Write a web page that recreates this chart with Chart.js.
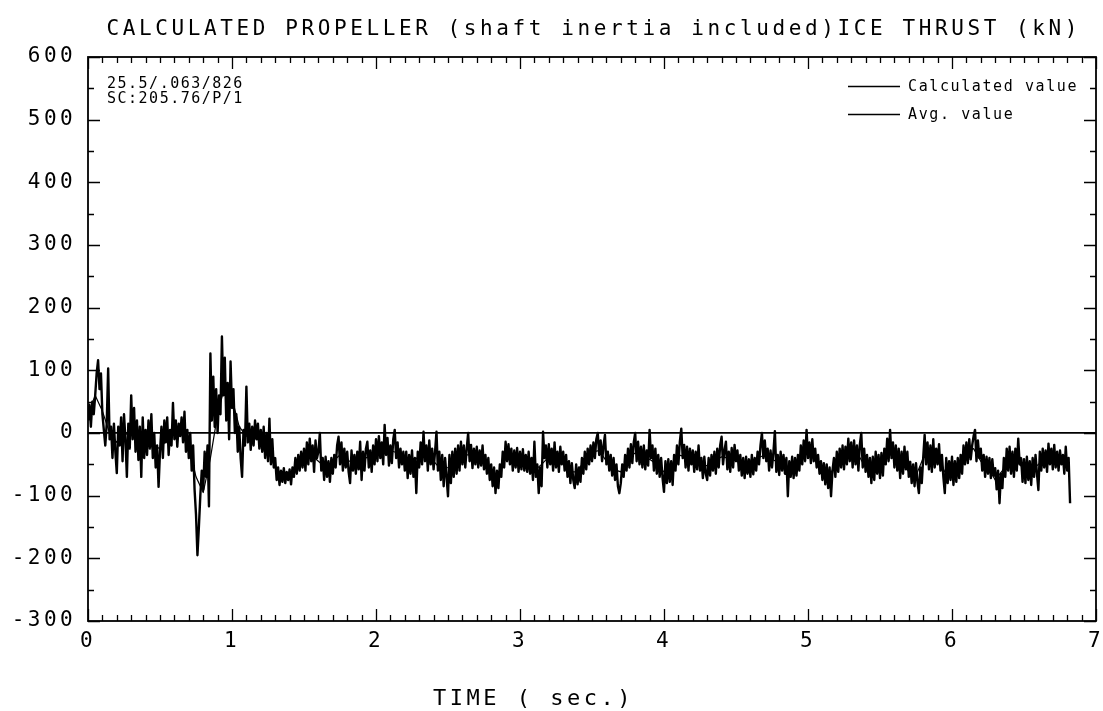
<!DOCTYPE html>
<html>
<head>
<meta charset="utf-8">
<title>Calculated propeller ice thrust</title>
<script src="https://cdn.jsdelivr.net/npm/chart.js@4.4.1/dist/chart.umd.min.js"></script>
<style>
  html, body { margin: 0; padding: 0; background: #fff; }
  canvas { display: block; }
</style>
</head>
<body>
<canvas id="c" width="1103" height="711"></canvas>
<script>
// Sampling of the two traces (seconds between samples)
const calcStep = 0.01;
const avgStep = 0.05;

// Calculated propeller ice thrust, kN, one row per 0.1 s
const calculatedValue = [
  20, 45, 10, 50, 30, 60, 95, 116, 70, 95,
  30, 5, -20, 15, 103, -10, 10, -40, 15, -30,
  -64, 10, -20, 25, -45, 30, -10, -70, 15, -25,
  60, -10, 40, -30, 20, -43, 10, -70, 25, -40,
  5, -35, 20, -25, 30, -40, 0, -55, -20, -86,
  -30, 10, -40, 20, -15, 25, -35, 5, -20, 48,
  -10, 20, -22, 15, -5, 25, -15, 34, -30, 5,
  -40, 0, -60, -20, -90, -130, -195, -150, -100, -60,
  -90, -30, -70, -20, -117, 127, 20, 90, 10, 70,
  0, 60, 30, 154, 60, 120, 20, 80, -10, 114,
  40, 70, 0, 30, -30, 10, -40, -70, 5, -20,
  74, -15, 15, -27, 10, -20, 20, -10, 15, -25,
  5, -30, 10, -40, 0, -45, 23, -50, -10, -55,
  -40, -75, -55, -83, -60, -78, -56, -80, -62, -75,
  -58, -82, -55, -70, -40, -65, -35, -60, -30, -55,
  -25, -60, -15, -50, -9, -45, -20, -62, -12, -40,
  -30, 0, -60, -40, -75, -38, -70, -45, -78, -40,
  -65, -35, -55, -20, -6, -50, -15, -60, -25, -55,
  -30, -62, -80, -28, -60, -35, -65, -30, -58, -14,
  -75, -30, -60, -25, -14, -55, -28, -62, -20, -50,
  -10, -45, -5, -40, -15, -50, 13, -35, -8, -52,
  -20, -48, -10, 5, -40, -15, -55, -25, -50, -30,
  -60, -30, -72, -35, -65, -28, -70, -40, -96, -30,
  -55, -15, -50, 2, -45, -20, -60, -12, -50, -25,
  -58, -30, 2, -60, -30, -75, -35, -85, -40, -70,
  -101, -35, -80, -30, -70, -25, -65, -20, -60, -14,
  -50, -20, -55, -25, 0, -45, -19, -56, -25, -50,
  -22, -55, -28, -52, -20, -58, -35, -65, -40, -75,
  -50, -85, -55, -96, -60, -88, -50, -70, -30, -55,
  -14, -45, -18, -50, -25, -60, -28, -55, -24, -62,
  -30, -58, -26, -60, -35, -62, -30, -65, -40, -75,
  -14, -70, -50, -96, -55, -85, 2, -40, -20, -55,
  -18, -50, -25, -60, -15, -55, -30, -62, -22, -50,
  -30, -60, -35, -70, -45, -80, -48, -75, -88, -50,
  -82, -55, -78, -40, -65, -30, -58, -25, -50, -20,
  -45, -15, -40, -10, 0, -35, -12, -45, -20, -3,
  -50, -30, -60, -35, -68, -40, -75, -50, -85, -96,
  -80, -50, -70, -35, -60, -25, -55, -18, -48, -15,
  0, -45, -14, -50, -22, -55, -20, -58, -28, -52,
  5, -40, -20, -60, -25, -65, -35, -70, -40, -72,
  -94, -45, -80, -42, -78, -45, -83, -35, -60, -20,
  -50, -14, 7, -40, -19, -55, -22, -60, -25, -50,
  -28, -62, -30, -58, -20, -60, -40, -72, -38, -65,
  -75, -40, -68, -35, -60, -30, -65, -25, -55, -20,
  -6, -50, -28, -14, -58, -30, -62, -24, -55, -19,
  -45, -28, -60, -35, -68, -40, -72, -38, -65, -42,
  -70, -35, -66, -40, -60, -30, -50, -20, 0, -40,
  -12, -45, -25, -60, -28, -55, -30, 3, -62, -35,
  -67, -30, -60, -35, -65, -40, -101, -45, -70, -38,
  -72, -40, -68, -35, -60, -20, -50, -12, -45, 5,
  -40, -15, -48, -10, -45, -25, -55, -35, -65, -45,
  -75, -48, -82, -50, -88, -55, -101, -60, -40, -70,
  -30, -62, -25, -55, -20, -58, -22, -50, -9, -45,
  -15, -55, -12, -50, -20, -60, -18, 0, -55, -25,
  -62, -35, -70, -40, -80, -38, -75, -30, -65, -35,
  -72, -32, -68, -25, -50, -9, -45, 5, -40, -15,
  -55, -20, -60, -25, -72, -30, -65, -22, -58, -30,
  -70, -46, -80, -50, -85, -48, -78, -96, -55, -80,
  -40, -3, -50, -15, -58, -20, -62, -10, -55, -25,
  -50, -18, -60, -35, -70, -96, -40, -80, -45, -75,
  -38, -83, -45, -78, -40, -72, -35, -65, -20, -50,
  -15, -48, -10, -42, -20, -5, 5, -45, -12, -40,
  -25, -60, -35, -70, -38, -65, -40, -72, -42, -68,
  -56, -90, -60, -112, -65, -88, -40, -70, -25, -60,
  -22, -65, -30, -70, -25, -60, -9, -50, -40, -78,
  -42, -80, -38, -75, -45, -83, -40, -70, -35, -65,
  -91, -30, -60, -25, -55, -28, -62, -17, -50, -25,
  -58, -19, -55, -30, -60, -28, -50, -35, -65, -22,
  -60, -40, -112
];

// Running average of the thrust, kN, one row per 0.5 s
const avgValue = [
  30, 60, 35, 0, -15, -5, 5, -5, -10, -20,
  -25, -10, 5, 5, -20, -70, -95, -40, 30, 75,
  55, 10, -5, -5, -15, -30, -55, -68, -65, -52,
  -40, -35, -45, -55, -45, -35, -45, -45, -42, -38,
  -28, -25, -28, -32, -48, -50, -35, -35, -45, -58,
  -55, -45, -35, -35, -38, -45, -68, -65, -35, -40,
  -42, -45, -60, -50, -38, -38, -45, -62, -62, -42,
  -30, -28, -45, -58, -62, -40, -32, -38, -42, -50,
  -62, -58, -35, -38, -40, -52, -52, -45, -38, -40,
  -42, -55, -52, -40, -35, -42, -48, -55, -52, -35,
  -30, -42, -62, -68, -45, -38, -35, -35, -55, -58,
  -50, -30, -40, -45, -62, -68, -40, -35, -40, -62,
  -60, -52, -30, -25, -45, -55, -75, -60, -45, -45,
  -58, -60, -50, -40, -40, -42, -50
];

// Axis ticks
const xTickValues = [0, 1, 2, 3, 4, 5, 6, 7];
const yTickValues = [-300, -200, -100, 0, 100, 200, 300, 400, 500, 600];

// Text
const chartTitle = 'CALCULATED PROPELLER (shaft inertia included)ICE THRUST (kN)';
const xAxisTitle = 'TIME ( sec.)';
const seriesNames = ['Calculated value', 'Avg. value'];
const runInfo = ['25.5/.063/826', 'SC:205.76/P/1'];

const toPoints = (values, step) => values.map((v, i) => ({ x: +(i * step).toFixed(3), y: v }));

const MONO = '"DejaVu Sans Mono", monospace';

// Frame with inward ticks on all four sides, plus title, legend and run info
const plotterFrame = {
  id: 'plotterFrame',
  beforeDraw(chart) {
    chart.ctx.letterSpacing = '3.4px';
  },
  afterDraw(chart) {
    const { ctx, chartArea: a, scales: { x, y } } = chart;
    ctx.save();
    ctx.letterSpacing = '0px';
    ctx.strokeStyle = '#000';
    ctx.lineWidth = 1.8;
    ctx.strokeRect(a.left, a.top, a.right - a.left, a.bottom - a.top);

    ctx.lineWidth = 1.3;
    ctx.beginPath();
    for (let i = 0; i <= 70; i++) {
      const px = Math.round(x.getPixelForValue(i / 10)) + 0.5;
      const len = i % 10 === 0 ? 12 : 6;
      ctx.moveTo(px, a.bottom); ctx.lineTo(px, a.bottom - len);
      ctx.moveTo(px, a.top); ctx.lineTo(px, a.top + len);
    }
    for (let v = -300; v <= 600; v += 50) {
      const py = Math.round(y.getPixelForValue(v)) + 0.5;
      const len = v % 100 === 0 ? 12 : 6;
      ctx.moveTo(a.left, py); ctx.lineTo(a.left + len, py);
      ctx.moveTo(a.right, py); ctx.lineTo(a.right - len, py);
    }
    ctx.stroke();

    ctx.fillStyle = '#000';
    ctx.textBaseline = 'alphabetic';

    // title
    ctx.font = '21px ' + MONO;
    ctx.letterSpacing = '3.6px';
    ctx.textAlign = 'center';
    ctx.fillText(chartTitle, (a.left + a.right) / 2 + 1.8, 35);

    // x axis title
    ctx.font = '22px ' + MONO;
    ctx.letterSpacing = '3.5px';
    ctx.textAlign = 'left';
    ctx.fillText(xAxisTitle, 433, 705);

    // run information, upper left
    ctx.font = '15px ' + MONO;
    ctx.letterSpacing = '1.5px';
    ctx.textBaseline = 'middle';
    ctx.fillText(runInfo[0], a.left + 19, 84);
    ctx.fillText(runInfo[1], a.left + 19, 99);

    // legend, upper right
    ctx.letterSpacing = '1.6px';
    ctx.lineWidth = 1.3;
    [86, 114].forEach((ly, i) => {
      ctx.beginPath();
      ctx.moveTo(848, ly + 0.5); ctx.lineTo(900, ly + 0.5);
      ctx.stroke();
      ctx.fillText(seriesNames[i], 908, ly + 1);
    });
    ctx.restore();
  }
};

new Chart(document.getElementById('c'), {
  type: 'line',
  data: {
    datasets: [
      {
        label: seriesNames[0],
        data: toPoints(calculatedValue, calcStep),
        borderColor: '#000',
        borderWidth: 2.4,
        borderJoinStyle: 'round',
        pointRadius: 0,
        tension: 0,
        fill: false
      },
      {
        label: seriesNames[1],
        data: toPoints(avgValue, avgStep),
        borderColor: '#000',
        borderWidth: 1.2,
        borderJoinStyle: 'round',
        pointRadius: 0,
        tension: 0,
        fill: false
      }
    ]
  },
  options: {
    responsive: false,
    animation: false,
    devicePixelRatio: 1,
    layout: { padding: { left: 0, right: 7, top: 57, bottom: 0 } },
    plugins: {
      legend: { display: false },
      title: { display: false },
      tooltip: { enabled: false }
    },
    scales: {
      x: {
        type: 'linear',
        min: 0,
        max: 7,
        afterBuildTicks: s => { s.ticks = xTickValues.map(v => ({ value: v })); },
        afterFit: s => { s.height = 90; s.paddingLeft = 0; s.paddingRight = 0; },
        grid: { display: false, drawTicks: false },
        border: { display: false },
        ticks: {
          color: '#000',
          font: { family: MONO, size: 21 },
          padding: 8,
          maxRotation: 0,
          autoSkip: false
        }
      },
      y: {
        type: 'linear',
        min: -300,
        max: 600,
        afterBuildTicks: s => { s.ticks = yTickValues.map(v => ({ value: v })); },
        afterFit: s => { s.width = 88; },
        grid: {
          drawTicks: false,
          color: c => (c.tick && c.tick.value === 0 ? '#000' : 'rgba(0,0,0,0)'),
          lineWidth: 1.8
        },
        border: { display: false },
        ticks: {
          color: '#000',
          font: { family: MONO, size: 21 },
          padding: 12,
          autoSkip: false
        }
      }
    }
  },
  plugins: [plotterFrame]
});
</script>
</body>
</html>
